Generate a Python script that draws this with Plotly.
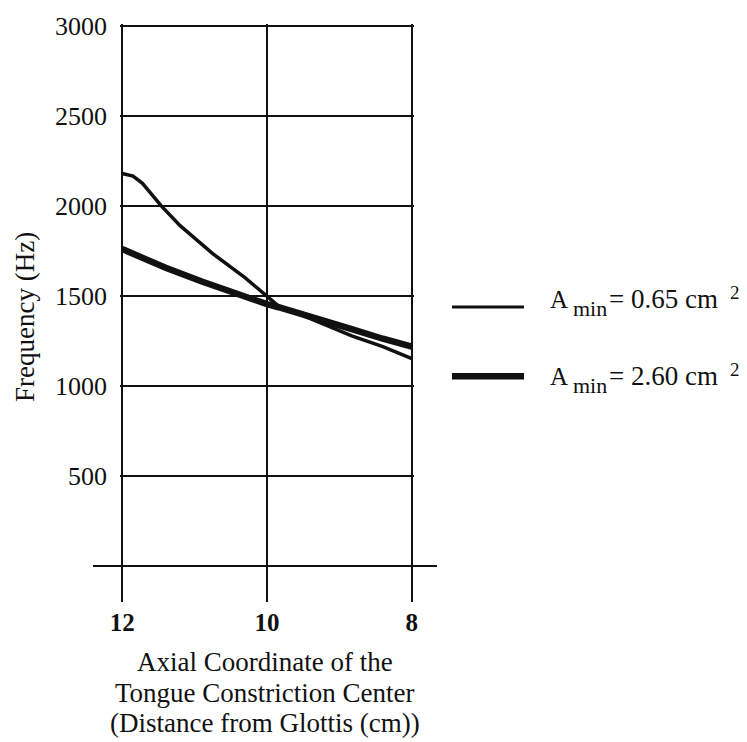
import plotly.graph_objects as go

# Data
x_thin = [12.0, 11.85, 11.72, 11.46, 11.2, 10.75, 10.3, 10.0, 9.84, 9.5, 8.83, 8.4, 8.0]
y_thin = [2180, 2165, 2125, 2000, 1890, 1735, 1600, 1495, 1443, 1390, 1278, 1218, 1152]

x_thick = [12.0, 11.4, 10.9, 10.33, 10.0, 9.84, 9.5, 8.83, 8.4, 8.0]
y_thick = [1760, 1656, 1580, 1497, 1454, 1437, 1399, 1316, 1262, 1218]

x_ticks = [12, 10, 8]
y_ticks = [500, 1000, 1500, 2000, 2500, 3000]

legend_values = ["0.65", "2.60"]

FONT = "Liberation Serif, Times New Roman, serif"
INK = "#111111"

fig = go.Figure()
fig.add_trace(go.Scatter(x=x_thin, y=y_thin, mode="lines",
                         line=dict(color=INK, width=3.5),
                         showlegend=False, name="A_min = 0.65 cm²"))
fig.add_trace(go.Scatter(x=x_thick, y=y_thick, mode="lines",
                         line=dict(color=INK, width=6.5),
                         showlegend=False, name="A_min = 2.60 cm²"))

W, H = 747, 742
L, R, T, B = 120, 333, 16, 140
pw = W - L - R
ph = H - T - B

def px(xp):
    return (xp - L) / pw

def py(yp):
    return (H - B - yp) / ph

shapes = []
# zero axis line extending beyond plot
shapes.append(dict(type="line", xref="paper", yref="y", x0=px(93), x1=px(437),
                   y0=0, y1=0, line=dict(color=INK, width=2)))

annotations = []

def txt(text, x, y, size, xanchor="left", **kw):
    annotations.append(dict(text=text, xref="paper", yref="paper", x=px(x), y=py(y),
                            xanchor=xanchor, yanchor="middle", showarrow=False,
                            font=dict(family=FONT, size=size, color=INK), **kw))

# manual legend
line_y = [303, 373]
text_base = [310, 388]
line_w = [3, 6.5]
for i, val in enumerate(legend_values):
    ly = line_y[i]
    shapes.append(dict(type="line", xref="paper", yref="paper", x0=px(452), x1=px(524),
                       y0=py(ly), y1=py(ly), line=dict(color=INK, width=line_w[i])))
    base = text_base[i]
    txt("A", 548, base - 0.57 * 25, 25)
    txt("min", 571, base + 7 - 0.57 * 22, 22)
    txt("= " + val + " cm", 607, base - 0.57 * 27, 27)
    txt("2", 728, base - 11 - 0.57 * 19, 19)

txt("Frequency (Hz)", 25, 313, 27, xanchor="center", textangle=-90)
txt("Axial Coordinate of the", 265, 663, 27, xanchor="center")
txt("Tongue Constriction Center", 265, 694, 27, xanchor="center")
txt("(Distance from Glottis (cm))", 265, 725, 27, xanchor="center")

fig.update_layout(
    width=W, height=H,
    margin=dict(l=L, r=R, t=T, b=B, pad=0),
    paper_bgcolor="white", plot_bgcolor="white",
    shapes=shapes, annotations=annotations,
    xaxis=dict(range=[12.03, 7.97], tickvals=x_ticks, ticktext=[str(v) for v in x_ticks],
               showgrid=True, gridcolor=INK, gridwidth=2.2, zeroline=False, showline=False,
               ticks="", ticklabelstandoff=3,
               tickfont=dict(family=FONT, size=25, color=INK, weight="bold")),
    yaxis=dict(range=[-200, 3010], tickvals=y_ticks, showgrid=True, gridcolor=INK,
               gridwidth=2.2, zeroline=False, showline=False, ticks="",
               ticklabelstandoff=12,
               tickfont=dict(family=FONT, size=26, color=INK)),
)

fig.write_html("out.html")
